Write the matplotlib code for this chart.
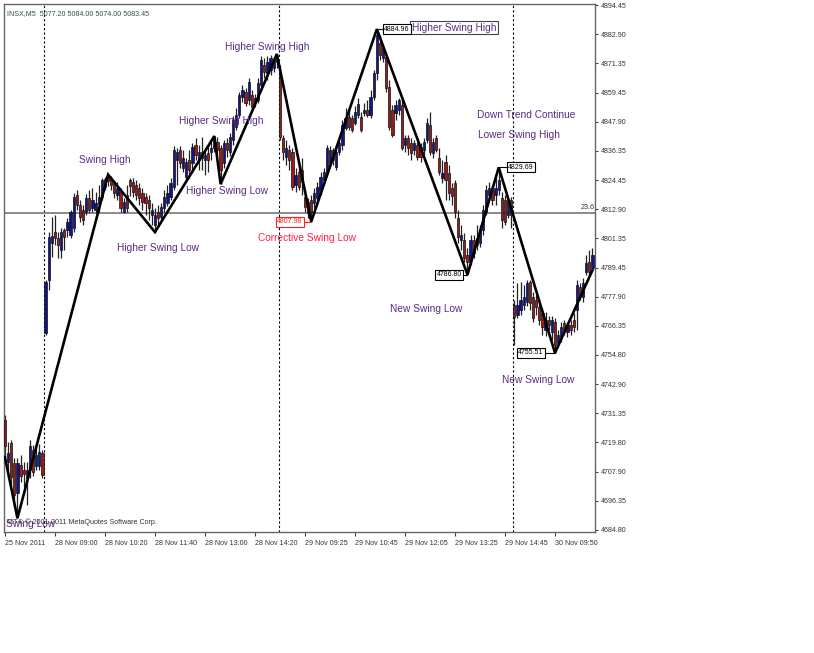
import matplotlib.pyplot as plt

# INSX M5 candles, 25 Nov - 30 Nov 2011
opens = [4728.6, 4711.8, 4719.4, 4711.4, 4699.4, 4710.6, 4708.6, 4705.4, 4708.6, 4716.6, 4710.2, 4710.2, 4715.4,
         4763.4, 4784.6, 4799.4, 4803.8, 4801.4, 4796.6, 4804.6, 4804.6, 4802.6, 4805.4,
         4818.6, 4814.6, 4812.6, 4811.8, 4817.4, 4813.4, 4812.6, 4815.0, 4817.8, 4821.8,
         4825.8, 4825.4, 4823.4, 4818.6, 4819.8, 4811.8, 4818.6, 4824.6, 4823.8, 4822.6,
         4821.4, 4819.4, 4817.8, 4816.6, 4810.6, 4806.6, 4811.8, 4809.8, 4813.4, 4815.4,
         4817.8, 4821.8, 4832.6, 4836.6, 4829.4, 4825.8, 4832.6, 4831.4, 4838.6, 4832.6,
         4835.8, 4832.6, 4835.4, 4835.8, 4837.4, 4839.8, 4837.4, 4831.4, 4839.4, 4835.8,
         4840.6, 4845.8, 4850.6, 4857.8, 4859.8, 4856.6, 4858.6, 4855.8, 4856.6, 4862.6,
         4870.6, 4867.4, 4868.6, 4869.4, 4871.8,
         4867.4, 4841.4, 4833.8, 4836.6, 4835.8, 4822.6, 4827.8, 4828.6, 4817.8, 4811.4,
         4816.6, 4815.4, 4817.4, 4820.6, 4824.6, 4827.8, 4831.4, 4836.6, 4829.8, 4835.8,
         4838.6, 4845.4, 4849.8, 4849.4, 4847.4, 4850.6, 4849.8, 4851.4, 4852.6, 4850.6,
         4857.8, 4867.4, 4879.4, 4873.4, 4873.8, 4861.8, 4852.6, 4851.4, 4852.6, 4854.6,
         4838.6, 4841.4, 4839.4, 4836.6, 4838.6, 4837.8, 4836.6, 4840.6, 4846.6, 4835.4,
         4841.4, 4833.4, 4825.4, 4831.8, 4827.4, 4821.4, 4823.4, 4809.4, 4800.6, 4800.6,
         4794.6, 4792.6, 4800.6, 4798.6, 4799.4, 4804.6, 4811.8, 4818.6, 4820.6, 4818.6,
         4820.6, 4817.4, 4816.6, 4810.6, 4816.6,
         4774.6, 4770.6, 4772.6, 4774.6, 4775.8, 4783.8, 4777.8, 4776.6, 4773.8, 4771.4,
         4764.6, 4768.6, 4763.8, 4767.8, 4759.4, 4761.8, 4767.4, 4763.8, 4766.6, 4768.6,
         4772.6, 4781.8, 4777.8, 4787.8, 4791.8, 4789.4]
highs = [4730.6, 4719.8, 4720.6, 4713.4, 4713.4, 4714.6, 4711.8, 4711.8, 4720.6, 4718.6, 4717.4, 4719.0, 4716.6,
         4784.6, 4803.8, 4809.8, 4810.6, 4803.8, 4805.4, 4805.4, 4809.4, 4812.6, 4819.4,
         4820.6, 4816.6, 4814.6, 4819.0, 4820.6, 4821.4, 4819.8, 4822.6, 4825.4, 4825.8,
         4826.8, 4826.2, 4824.6, 4823.8, 4821.4, 4817.4, 4822.6, 4825.4, 4825.4, 4824.6,
         4823.4, 4821.4, 4819.4, 4818.6, 4815.4, 4813.4, 4814.6, 4815.4, 4820.6, 4822.6,
         4825.4, 4838.2, 4837.4, 4838.2, 4836.6, 4833.4, 4836.6, 4839.4, 4841.4, 4838.6,
         4841.8, 4837.4, 4838.6, 4840.6, 4842.2, 4841.8, 4838.6, 4840.6, 4841.4, 4843.4,
         4850.2, 4853.4, 4859.8, 4862.6, 4861.4, 4865.4, 4860.6, 4859.0, 4865.4, 4874.2,
         4873.4, 4874.2, 4874.6, 4873.8, 4875.0,
         4870.6, 4842.6, 4840.6, 4838.6, 4837.4, 4829.4, 4830.6, 4833.4, 4820.6, 4817.4,
         4818.6, 4821.4, 4823.8, 4827.8, 4829.4, 4838.6, 4838.2, 4837.4, 4838.6, 4840.6,
         4848.6, 4853.4, 4852.6, 4850.6, 4854.2, 4857.4, 4851.8, 4855.4, 4856.6, 4860.6,
         4868.6, 4884.96, 4882.6, 4878.6, 4875.8, 4864.6, 4854.6, 4856.6, 4857.4, 4856.6,
         4842.6, 4842.6, 4841.4, 4840.6, 4839.8, 4839.4, 4841.4, 4849.4, 4851.8, 4841.4,
         4842.6, 4837.4, 4832.6, 4834.6, 4830.6, 4823.4, 4824.6, 4812.6, 4806.6, 4803.4,
         4797.4, 4802.6, 4802.6, 4806.6, 4806.6, 4814.6, 4822.6, 4823.8, 4822.6, 4825.4,
         4829.69, 4819.8, 4818.6, 4817.4, 4817.8,
         4776.6, 4783.4, 4783.8, 4782.6, 4784.6, 4784.6, 4779.8, 4778.6, 4775.4, 4773.4,
         4771.8, 4770.2, 4770.2, 4769.4, 4764.6, 4767.8, 4768.6, 4767.8, 4768.6, 4771.4,
         4784.6, 4783.4, 4785.4, 4794.6, 4796.6, 4797.4]
lows = [4713.8, 4705.8, 4702.6, 4694.6, 4689.4, 4703.8, 4701.8, 4694.6, 4705.4, 4706.2, 4708.6, 4708.6, 4705.4,
        4762.6, 4780.6, 4793.8, 4798.6, 4793.4, 4793.4, 4796.6, 4801.8, 4801.4, 4803.8,
        4812.6, 4807.8, 4806.6, 4810.6, 4811.4, 4811.8, 4811.4, 4811.8, 4816.6, 4820.6,
        4822.2, 4820.6, 4817.4, 4816.6, 4811.8, 4811.4, 4811.8, 4818.2, 4817.8, 4816.6,
        4814.6, 4812.6, 4810.6, 4808.6, 4806.6, 4803.8, 4806.6, 4808.6, 4811.8, 4814.2,
        4816.6, 4820.6, 4822.6, 4829.4, 4827.8, 4823.8, 4825.4, 4828.6, 4832.6, 4828.6,
        4828.6, 4826.6, 4827.8, 4832.6, 4835.8, 4834.6, 4823.0, 4829.4, 4833.8, 4834.2,
        4838.6, 4844.6, 4849.4, 4855.8, 4854.2, 4854.6, 4852.6, 4853.8, 4855.4, 4860.6,
        4865.4, 4864.6, 4866.6, 4867.8, 4869.4,
        4840.6, 4832.6, 4830.6, 4828.6, 4820.6, 4819.8, 4820.6, 4818.6, 4811.8, 4809.4,
        4807.98, 4813.4, 4814.6, 4818.6, 4822.6, 4826.2, 4829.4, 4830.6, 4828.6, 4834.6,
        4836.6, 4844.6, 4844.6, 4843.8, 4846.6, 4849.4, 4843.8, 4850.2, 4849.8, 4849.4,
        4856.6, 4864.6, 4872.6, 4871.8, 4859.8, 4844.6, 4841.8, 4848.6, 4850.6, 4836.6,
        4835.8, 4834.6, 4832.6, 4834.6, 4832.6, 4831.8, 4834.6, 4839.4, 4834.6, 4833.4,
        4835.8, 4826.6, 4823.4, 4816.6, 4816.6, 4814.6, 4809.4, 4799.4, 4796.6, 4791.8,
        4786.8, 4790.6, 4793.4, 4796.6, 4797.8, 4802.6, 4810.6, 4816.6, 4814.6, 4814.6,
        4818.6, 4805.4, 4806.6, 4809.4, 4805.4,
        4758.6, 4769.4, 4770.6, 4772.6, 4774.2, 4772.6, 4767.8, 4770.6, 4766.6, 4762.6,
        4762.2, 4764.6, 4760.6, 4755.51, 4757.8, 4759.8, 4762.6, 4761.8, 4762.6, 4763.8,
        4764.6, 4776.6, 4775.8, 4786.6, 4786.6, 4788.6]
closes = [4718.2, 4715.4, 4705.8, 4698.6, 4711.4, 4706.2, 4707.0, 4708.6, 4718.2, 4707.8, 4714.6, 4715.8, 4706.6,
          4783.8, 4801.8, 4802.2, 4801.4, 4798.6, 4803.8, 4801.8, 4807.8, 4811.8, 4817.8,
          4814.6, 4809.8, 4808.6, 4817.4, 4812.6, 4816.6, 4815.4, 4817.8, 4824.6, 4825.0,
          4824.2, 4822.6, 4819.4, 4821.4, 4813.4, 4815.8, 4813.4, 4822.2, 4819.8, 4818.6,
          4817.4, 4815.8, 4815.4, 4813.4, 4812.6, 4810.6, 4809.4, 4813.8, 4817.8, 4819.4,
          4823.4, 4836.6, 4835.8, 4831.4, 4833.4, 4831.8, 4828.6, 4837.8, 4834.6, 4835.8,
          4833.4, 4834.6, 4832.6, 4837.4, 4841.4, 4836.6, 4828.6, 4839.4, 4836.6, 4841.8,
          4848.6, 4850.6, 4858.6, 4860.6, 4855.4, 4863.8, 4853.8, 4857.4, 4863.4, 4872.6,
          4867.8, 4871.8, 4873.4, 4872.6, 4873.4,
          4841.8, 4835.8, 4837.4, 4832.6, 4821.8, 4826.6, 4821.8, 4823.8, 4813.8, 4815.8,
          4811.8, 4819.4, 4821.8, 4825.8, 4827.8, 4837.4, 4836.6, 4832.6, 4835.8, 4839.4,
          4846.6, 4849.4, 4845.8, 4844.6, 4851.8, 4855.0, 4844.6, 4852.6, 4850.6, 4857.8,
          4867.4, 4882.6, 4874.6, 4877.4, 4861.4, 4845.8, 4842.6, 4854.6, 4856.6, 4837.4,
          4841.4, 4837.4, 4835.4, 4839.4, 4833.8, 4833.8, 4839.8, 4847.4, 4835.8, 4839.8,
          4836.6, 4827.8, 4827.4, 4824.6, 4819.4, 4818.2, 4811.8, 4801.8, 4802.6, 4793.4,
          4791.8, 4800.6, 4795.4, 4801.4, 4804.6, 4812.6, 4820.6, 4821.4, 4816.6, 4821.4,
          4824.6, 4808.6, 4807.8, 4816.6, 4810.6,
          4769.8, 4774.6, 4776.6, 4777.8, 4783.4, 4775.4, 4769.4, 4773.8, 4768.6, 4765.8,
          4768.6, 4766.6, 4768.6, 4758.6, 4762.6, 4765.8, 4764.6, 4766.6, 4764.6, 4765.8,
          4782.6, 4777.8, 4783.4, 4791.4, 4787.8, 4794.6]

# zigzag turning points: bar index and which extreme
zz_bars = [0, 4, 33, 48, 67, 69, 87, 98, 119, 148, 158, 176, 188]
zz_kind = ['L', 'L', 'H', 'L', 'H', 'L', 'H', 'L', 'H', 'L', 'H', 'L', 'L']

day_starts = [13, 88, 163]
fib_level = 4811.5

xtick_bars = [0, 16, 32, 48, 64, 80, 96, 112, 128, 144, 160, 176]
xtick_labels = ['25 Nov 2011', '28 Nov 09:00', '28 Nov 10:20', '28 Nov 11:40', '28 Nov 13:00',
                '28 Nov 14:20', '29 Nov 09:25', '29 Nov 10:45', '29 Nov 12:05', '29 Nov 13:25',
                '29 Nov 14:45', '30 Nov 09:50']
ytick_vals = [4894.45, 4882.90, 4871.35, 4859.45, 4847.90, 4836.35, 4824.45, 4812.90, 4801.35,
              4789.45, 4777.90, 4766.35, 4754.80, 4742.90, 4731.35, 4719.80, 4707.90, 4696.35, 4684.80]

purple = '#5b2a86'
bull = '#14148a'
bear = '#9c1a1a'

fig = plt.figure(figsize=(8.14, 6.53), dpi=100)
ax = fig.add_axes([4 / 814, 121 / 653, 591 / 814, 528 / 653])

# candles
for i in range(len(opens)):
    o, h, l, c = opens[i], highs[i], lows[i], closes[i]
    col = bull if c >= o else bear
    ax.vlines(i, l, h, color='#222222', lw=0.9, zorder=2)
    ax.bar(i, abs(c - o) if abs(c - o) > 0.3 else 0.3, bottom=min(o, c), width=0.72,
           color=col, edgecolor='#111111', lw=0.5, zorder=3)

# zigzag
zz_y = [highs[b] if k == 'H' else lows[b] for b, k in zip(zz_bars, zz_kind)]
ax.plot(zz_bars, zz_y, color='black', lw=1.9, zorder=5, solid_joinstyle='miter')

# day separators and fibo line
for d in day_starts:
    ax.axvline(d - 0.4, color='black', lw=0.8, ls=(0, (2, 2)), zorder=1)
ax.axhline(fib_level, color='#777777', lw=1.2, zorder=1)
ax.text(188.6, fib_level + 0.6, '23.6', fontsize=5.2, family='Liberation Sans',
        ha='right', va='bottom', color='#333333')

ax.set_xlim(-0.3, 188.8)
ax.set_ylim(4683.9, 4895.0)

ax.set_xticks(xtick_bars)
ax.set_xticklabels(xtick_labels, ha='left', fontsize=5.1, family='Liberation Sans', color='#333333')
ax.yaxis.tick_right()
ax.set_yticks(ytick_vals)
ax.set_yticklabels([f'{v:.2f}' for v in ytick_vals], fontsize=5.1, family='Liberation Sans',
                   color='#333333')
ax.tick_params(axis='x', direction='out', length=3, width=0.8, pad=3, color='#444444')
ax.tick_params(axis='y', direction='out', length=2, width=0.8, pad=2, color='#444444')
for s in ax.spines.values():
    s.set_color('#666666')
    s.set_linewidth(1.0)

# annotations
lab = dict(fontsize=7.3, family='Liberation Sans', ha='center', va='center', zorder=6)
ax.text(32, 4832.6, 'Swing High', color=purple, **lab)
ax.text(49, 4797.4, 'Higher Swing Low', color=purple, **lab)
ax.text(69.1, 4848.2, 'Higher Swing High', color=purple, **lab)
ax.text(71, 4820.2, 'Higher Swing Low', color=purple, **lab)
ax.text(83.8, 4877.8, 'Higher Swing High', color=purple, **lab)
ax.text(96.6, 4801.4, 'Corrective Swing Low', color='#ff2040', **lab)
ax.text(143.7, 4885.6, 'Higher Swing High', color=purple,
        bbox=dict(boxstyle='square,pad=0.15', fc='white', ec='#444444', lw=0.8), **lab)
ax.text(166.7, 4850.6, 'Down Trend Continue', color=purple, **lab)
ax.text(164.5, 4842.6, 'Lower Swing High', color=purple, **lab)
ax.text(134.7, 4773.0, 'New Swing Low', color=purple, **lab)
ax.text(170.6, 4744.6, 'New Swing Low', color=purple, **lab)
ax.text(8.3, 4686.9, 'Swing Low', color=purple, **lab)

# price labels at swing points
price_tags = [(91.2, 98, 95.7, 'L', '#ff2020'),
              (125.4, 119, 121.0, 'H', 'black'),
              (165.1, 158, 160.8, 'H', 'black'),
              (142.1, 148, 146.6, 'L', 'black'),
              (168.3, 176, 172.8, 'L', 'black')]
for tx, b, edge, k, col in price_tags:
    p = highs[b] if k == 'H' else lows[b]
    ax.plot([edge, b], [p, p], color=col, lw=0.8, zorder=5)
    ax.text(tx, p, f'{p:.2f}', fontsize=5.0, family='Liberation Sans', color=col,
            ha='center', va='center', zorder=7,
            bbox=dict(boxstyle='square,pad=0.2', fc='white', ec=col, lw=0.8))

ax.text(0.005, 0.989, 'INSX,M5  5077.20 5084.00 5074.00 5083.45', transform=ax.transAxes,
        fontsize=5.1, family='Liberation Sans', color='#2f4f4f', ha='left', va='top')
ax.text(0.005, 0.012, 'MT4: \u00a9 2001-2011 MetaQuotes Software Corp.', transform=ax.transAxes,
        fontsize=5.1, family='Liberation Sans', color='#333333', ha='left', va='bottom', zorder=7)

fig.savefig('out.png', dpi=100, facecolor='white')
